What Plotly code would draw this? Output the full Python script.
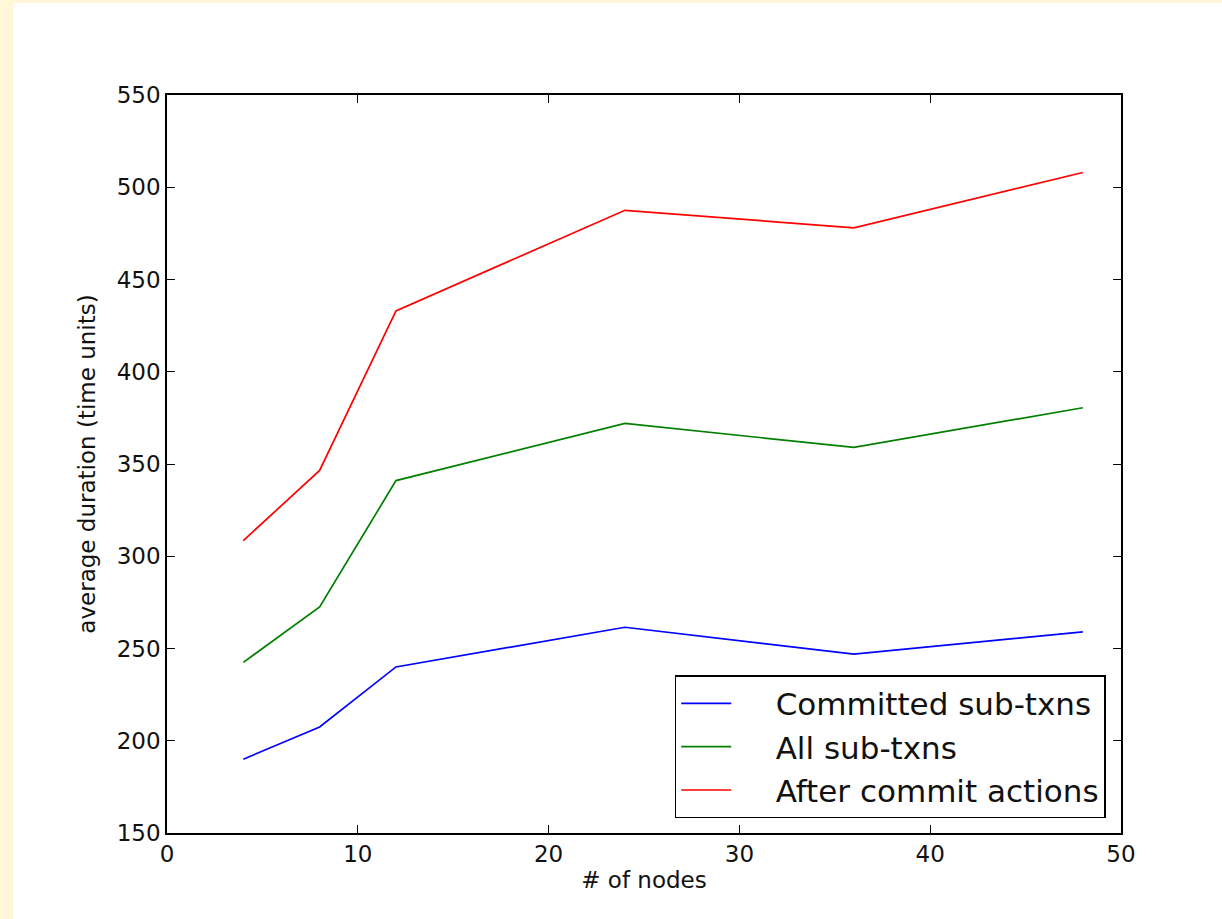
import plotly.graph_objects as go

nodes = [4, 8, 12, 24, 36, 48]
committed = [190, 207.5, 240, 261.5, 247, 259]
all_sub = [242.5, 272.5, 341, 372, 359, 380.5]
after_commit = [308.5, 346.5, 433, 487.5, 478, 508]

series_names = ["Committed sub-txns", "All sub-txns", "After commit actions"]
series_colors = ["#0000ff", "#007f00", "#ff0000"]
x_ticks = [0, 10, 20, 30, 40, 50]
y_ticks = [150, 200, 250, 300, 350, 400, 450, 500, 550]

FONT = "DejaVu Sans"

fig = go.Figure()
for i, (name, vals, col) in enumerate(zip(series_names, [committed, all_sub, after_commit], series_colors)):
    fig.add_trace(go.Scatter(x=nodes, y=vals, mode="lines", name="    " + name,
                             line=dict(color=col, width=1.7)))

W, H = 1222, 919
L, R, T, B = 167, 101, 95, 86
pw, ph = W - L - R, H - T - B

fig.add_shape(type="rect", xref="paper", yref="paper",
              x0=(13 - L) / pw, x1=(W + 5 - L) / pw,
              y0=-(B + 5) / ph, y1=(H - B - 3) / ph,
              fillcolor="white", line=dict(width=0), layer="below")

axis_common = dict(
    showgrid=False, zeroline=False, showline=True, linecolor="black", linewidth=1.5,
    mirror="ticks", ticks="inside", ticklen=8, tickwidth=1.2, tickcolor="black",
    tickfont=dict(family=FONT, size=23, color="#111111"),
)

fig.update_layout(
    width=W, height=H,
    margin=dict(l=L, r=R, t=T, b=B),
    paper_bgcolor="#fff7d8",
    plot_bgcolor="white",
    font=dict(family=FONT, color="#111111"),
    xaxis=dict(range=[0, 50], tickvals=x_ticks, ticktext=[str(v) for v in x_ticks],
               title=dict(text="# of nodes", font=dict(family=FONT, size=23), standoff=6),
               **axis_common),
    yaxis=dict(range=[150, 550], tickvals=y_ticks, ticktext=[str(v) for v in y_ticks],
               title=dict(text="average duration (time units)", font=dict(family=FONT, size=23), standoff=15),
               **axis_common),
    legend=dict(x=0.984, y=0.02, xanchor="right", yanchor="bottom",
                bgcolor="white", bordercolor="black", borderwidth=1.5,
                itemwidth=50,
                font=dict(family=FONT, size=31, color="#111111")),
    showlegend=True,
)

fig.write_html("out.html")
